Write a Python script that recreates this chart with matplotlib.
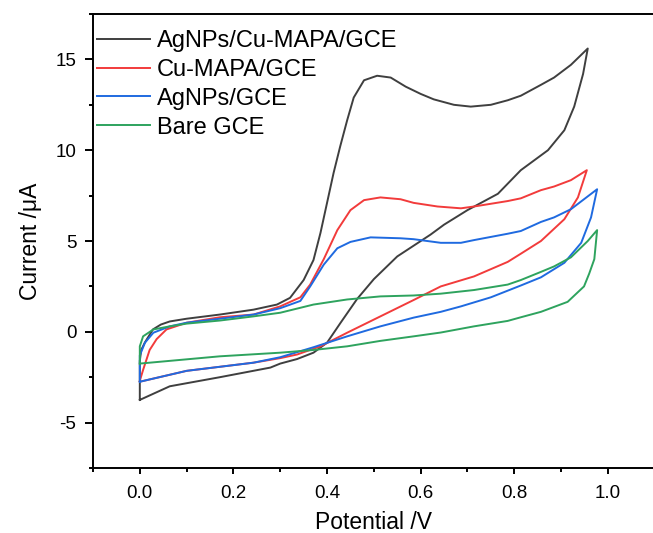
import matplotlib
matplotlib.use("Agg")
import matplotlib.pyplot as plt
from matplotlib.ticker import MultipleLocator

plt.rcParams['font.family'] = ['Liberation Sans', 'DejaVu Sans']

labels = ["AgNPs/Cu-MAPA/GCE", "Cu-MAPA/GCE", "AgNPs/GCE", "Bare GCE"]
colors = ["#3f3f3f", "#f23b3b", "#1f6ae0", "#2ea35e"]

# AgNPs/Cu-MAPA/GCE
black_x = [0.0, 0.0, 0.003, 0.011, 0.028, 0.045, 0.064, 0.10, 0.171, 0.243, 0.293, 0.321, 0.35, 0.371,
           0.386, 0.40, 0.414, 0.428, 0.443, 0.457, 0.479, 0.507, 0.536, 0.568, 0.60, 0.628, 0.671, 0.707,
           0.75, 0.786, 0.814, 0.857, 0.885, 0.921, 0.957,
           0.947, 0.928, 0.907, 0.872, 0.814, 0.765, 0.70, 0.65, 0.621, 0.55, 0.50, 0.464,
           0.429, 0.40, 0.371, 0.336, 0.3, 0.279, 0.171, 0.064, 0.0]
black_y = [-3.75, -1.6, -1.0, -0.58, 0.13, 0.40, 0.57, 0.72, 0.95, 1.22, 1.5, 1.87, 2.85, 3.95,
           5.45, 7.1, 8.75, 10.2, 11.65, 12.9, 13.85, 14.1, 14.0, 13.5, 13.1, 12.8, 12.5, 12.4,
           12.5, 12.75, 13.0, 13.6, 14.0, 14.7, 15.6,
           14.2, 12.4, 11.1, 10.0, 8.9, 7.6, 6.7, 5.9, 5.35, 4.15, 2.9, 1.8,
           0.5, -0.6, -1.15, -1.5, -1.75, -1.97, -2.5, -3.0, -3.75]

# Cu-MAPA/GCE
red_x = [0.0, 0.007, 0.021, 0.036, 0.057, 0.10, 0.171, 0.243, 0.30, 0.343, 0.364, 0.393, 0.422, 0.45,
         0.479, 0.514, 0.557, 0.585, 0.636, 0.686, 0.714, 0.786, 0.814, 0.857, 0.885, 0.921, 0.955,
         0.936, 0.907, 0.857, 0.814, 0.786, 0.714, 0.643, 0.585, 0.514, 0.443, 0.386, 0.336, 0.30,
         0.243, 0.10, 0.0]
red_y = [-2.7, -2.1, -1.0, -0.4, 0.13, 0.5, 0.8, 0.95, 1.4, 1.9, 2.6, 4.0, 5.6, 6.7,
         7.25, 7.4, 7.3, 7.1, 6.9, 6.8, 6.9, 7.2, 7.35, 7.8, 8.0, 8.35, 8.9,
         7.4, 6.2, 5.0, 4.3, 3.85, 3.05, 2.5, 1.75, 0.85, -0.05, -0.8, -1.25, -1.45,
         -1.7, -2.15, -2.75]

# AgNPs/GCE
blue_x = [0.0, 0.0, 0.011, 0.029, 0.064, 0.10, 0.171, 0.243, 0.30, 0.343, 0.364, 0.393, 0.422, 0.45,
          0.493, 0.557, 0.585, 0.643, 0.686, 0.714, 0.786, 0.814, 0.857, 0.885, 0.921, 0.977,
          0.964, 0.943, 0.907, 0.857, 0.814, 0.75, 0.686, 0.643, 0.585, 0.514, 0.443, 0.371, 0.30,
          0.243, 0.10, 0.0]
blue_y = [-2.75, -1.3, -0.6, -0.05, 0.3, 0.5, 0.72, 0.95, 1.3, 1.7, 2.5, 3.7, 4.6, 4.95,
          5.2, 5.15, 5.1, 4.9, 4.9, 5.05, 5.4, 5.55, 6.05, 6.3, 6.75, 7.85,
          6.3, 4.9, 3.8, 3.0, 2.55, 1.9, 1.4, 1.1, 0.78, 0.3, -0.25, -0.85, -1.4,
          -1.7, -2.15, -2.75]

# Bare GCE
green_x = [0.0, 0.0, 0.007, 0.029, 0.064, 0.10, 0.171, 0.243, 0.30, 0.371, 0.443, 0.514, 0.585, 0.643,
           0.714, 0.786, 0.814, 0.857, 0.885, 0.921, 0.957, 0.977,
           0.971, 0.96, 0.949, 0.914, 0.857, 0.814, 0.786, 0.714, 0.643,
           0.585, 0.514, 0.443, 0.371, 0.30, 0.171, 0.0]
green_y = [-1.75, -0.8, -0.25, 0.13, 0.3, 0.45, 0.62, 0.85, 1.05, 1.5, 1.78, 1.95, 2.0, 2.1,
           2.3, 2.6, 2.85, 3.3, 3.6, 4.1, 5.0, 5.6,
           4.0, 3.2, 2.5, 1.65, 1.1, 0.8, 0.6, 0.3, -0.04,
           -0.25, -0.5, -0.8, -1.0, -1.15, -1.35, -1.75]

series_x = [black_x, red_x, blue_x, green_x]
series_y = [black_y, red_y, blue_y, green_y]

fig = plt.figure(figsize=(6.53, 5.33), dpi=100)
ax = fig.add_axes([93/653, 1-468/533, (654.7-93)/653, (468-14)/533])

for xs, ys, c, lab in zip(series_x, series_y, colors, labels):
    ax.plot(xs, ys, color=c, lw=1.4, label=lab, solid_joinstyle='round')

ax.set_xlim(-0.1, 1.1)
ax.set_ylim(-7.5, 17.5)
ax.xaxis.set_minor_locator(MultipleLocator(0.1))
ax.yaxis.set_minor_locator(MultipleLocator(2.5))
ax.set_xticks([0.0, 0.2, 0.4, 0.6, 0.8, 1.0])
ax.set_xticklabels(["0.0", "0.2", "0.4", "0.6", "0.8", "1.0"])
ax.set_yticks([-5, 0, 5, 10, 15])
ax.set_yticklabels(["-5", "0", "5", "10", "15"])
for s in ax.spines.values():
    s.set_linewidth(1.4)
ax.tick_params(axis='both', which='major', direction='out', labelsize=13.5, width=1.4)
ax.tick_params(axis='x', which='major', length=4.5, pad=8)
ax.tick_params(axis='y', which='major', length=6, pad=6)
ax.tick_params(axis='both', which='minor', direction='out', length=3, width=1.4)

ax.set_xlabel("Potential /V", fontsize=16.5, labelpad=6)
ax.set_ylabel("Current /μA", fontsize=16.5, labelpad=10)

leg = ax.legend(loc='upper left', bbox_to_anchor=(97/653, 1-30/533), bbox_transform=fig.transFigure,
                frameon=False, fontsize=17, handlelength=2.25, handletextpad=0.3,
                labelspacing=0.29, borderpad=0, borderaxespad=0)

fig.savefig("out.png", dpi=100)
